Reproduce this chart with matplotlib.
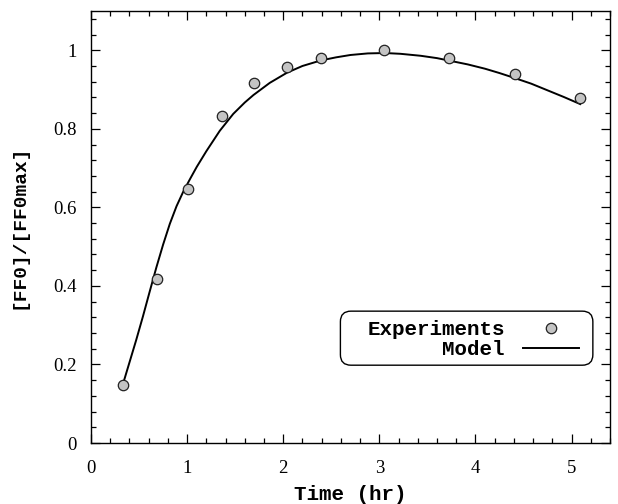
import numpy as np
import matplotlib
matplotlib.use('Agg')
import matplotlib.pyplot as plt
from matplotlib.ticker import MultipleLocator, FormatStrFormatter
from matplotlib.patches import FancyBboxPatch

# experimental points
exp_t = [0.33, 0.69, 1.01, 1.36, 1.70, 2.04, 2.39, 3.05, 3.73, 4.41, 5.09]
exp_y = [0.148, 0.417, 0.646, 0.832, 0.916, 0.957, 0.980, 1.000, 0.980, 0.940, 0.878]

# model curve
model_t = [0.33, 0.40, 0.47, 0.54, 0.61, 0.68, 0.75, 0.82, 0.89, 0.96, 1.03,
           1.10, 1.20, 1.34, 1.48, 1.60, 1.69, 1.86, 2.04, 2.20, 2.39, 2.55,
           2.70, 2.88, 3.06, 3.22, 3.43, 3.60, 3.74, 3.92, 4.10, 4.25, 4.40,
           4.58, 4.75, 4.92, 5.09]
model_y = [0.148, 0.205, 0.262, 0.322, 0.385, 0.447, 0.505, 0.558, 0.603, 0.640, 0.672,
           0.703, 0.743, 0.795, 0.838, 0.867, 0.886, 0.917, 0.943, 0.960, 0.974, 0.982,
           0.988, 0.992, 0.993, 0.991, 0.986, 0.980, 0.973, 0.964, 0.953, 0.942, 0.930,
           0.915, 0.898, 0.881, 0.863]

mono = 'Liberation Mono'
serif = 'Liberation Serif'

fig = plt.figure(figsize=(6.18, 5.04), dpi=100)
ax = fig.add_axes([91/618, 61/504, 519/618, 432/504])

ax.plot(model_t, model_y, color='black', lw=1.4, label='Model', zorder=2)
ax.plot(exp_t, exp_y, 'o', ms=7.5, mfc='#c4c4c4', mec='#222222', mew=0.9,
        label='Experiments', zorder=3)

ax.set_xlim(0, 5.4)
ax.set_ylim(0, 1.1)
ax.xaxis.set_major_locator(MultipleLocator(1))
ax.xaxis.set_minor_locator(MultipleLocator(0.2))
ax.yaxis.set_major_locator(MultipleLocator(0.2))
ax.yaxis.set_minor_locator(MultipleLocator(0.04))
ax.yaxis.set_major_formatter(FormatStrFormatter('%g'))

ax.tick_params(which='both', direction='in', top=True, right=True, width=0.9)
ax.tick_params(which='major', length=6.5)
ax.tick_params(which='minor', length=3.5)
ax.tick_params(axis='x', which='major', pad=12)
ax.tick_params(axis='y', which='major', pad=10)
for lab in ax.get_xticklabels() + ax.get_yticklabels():
    lab.set_fontfamily(serif)
    lab.set_fontsize(13.5)
for s in ax.spines.values():
    s.set_linewidth(1.0)

ax.set_xlabel('Time (hr)', fontfamily=mono, fontweight='bold', fontsize=15, labelpad=6)
ax.set_ylabel('[FF0]/[FF0max]', fontfamily=mono, fontweight='bold', fontsize=14, labelpad=19)

h, l = ax.get_legend_handles_labels()
leg = ax.legend(h[::-1], l[::-1], loc='lower right', bbox_to_anchor=(0.940, 0.194),
                borderaxespad=0, markerfirst=False, frameon=False,
                prop={'family': mono, 'weight': 'bold', 'size': 15},
                handlelength=2.7, handletextpad=0.85, labelspacing=0.05,
                borderpad=0)
leg.set_zorder(6)

# rounded frame around the legend, wider on the left like the original
fig.canvas.draw()
bb = leg.get_window_extent()
W, H = fig.bbox.width, fig.bbox.height
x0, x1 = bb.x0 - 27, bb.x1 + 14
y0, y1 = bb.y0 - 6, bb.y1 + 9
frame = FancyBboxPatch((x0 / W, y0 / H), (x1 - x0) / W, (y1 - y0) / H,
                       boxstyle='round,pad=0,rounding_size=0.017',
                       transform=fig.transFigure, facecolor='white',
                       edgecolor='black', lw=1.0, zorder=5,
                       mutation_aspect=W / H)
ax.add_artist(frame)

fig.savefig('out.png', dpi=100)
